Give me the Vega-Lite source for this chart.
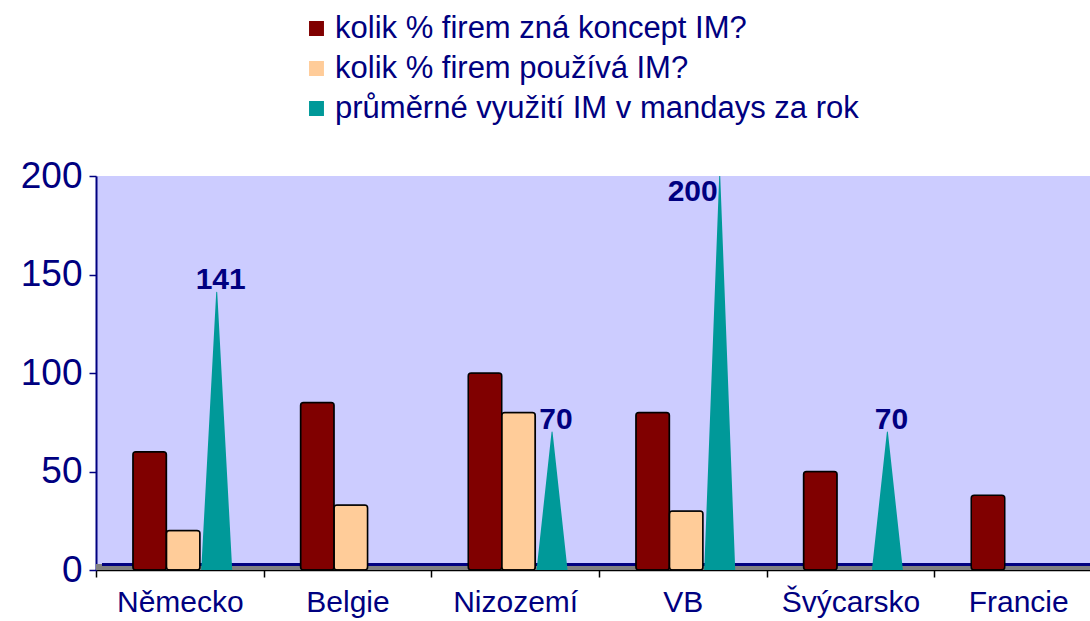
{
  "$schema": "https://vega.github.io/schema/vega-lite/v6.json",
  "autosize": {"type": "none"},
  "padding": {"left": 96, "top": 176, "right": 0, "bottom": 51},
  "width": 994,
  "height": 394,
  "background": "white",
  "config": {
    "font": "Liberation Sans",
    "view": {"fill": "#CCCCFF", "stroke": null}
  },
  "data": {
    "values": [
      {"country": "Německo", "series": "kolik % firem zná koncept IM?", "value": 60},
      {"country": "Německo", "series": "kolik % firem používá IM?", "value": 20},
      {"country": "Německo", "series": "průměrné využití IM v mandays za rok", "value": 141},
      {"country": "Belgie", "series": "kolik % firem zná koncept IM?", "value": 85},
      {"country": "Belgie", "series": "kolik % firem používá IM?", "value": 33},
      {"country": "Nizozemí", "series": "kolik % firem zná koncept IM?", "value": 100},
      {"country": "Nizozemí", "series": "kolik % firem používá IM?", "value": 80},
      {"country": "Nizozemí", "series": "průměrné využití IM v mandays za rok", "value": 70},
      {"country": "VB", "series": "kolik % firem zná koncept IM?", "value": 80},
      {"country": "VB", "series": "kolik % firem používá IM?", "value": 30},
      {"country": "VB", "series": "průměrné využití IM v mandays za rok", "value": 200},
      {"country": "Švýcarsko", "series": "kolik % firem zná koncept IM?", "value": 50},
      {"country": "Švýcarsko", "series": "průměrné využití IM v mandays za rok", "value": 70},
      {"country": "Francie", "series": "kolik % firem zná koncept IM?", "value": 38}
    ]
  },
  "encoding": {
    "x": {
      "field": "country", "type": "nominal",
      "sort": ["Německo", "Belgie", "Nizozemí", "VB", "Švýcarsko", "Francie"],
      "scale": {"range": [0, 1006], "paddingInner": 0, "paddingOuter": 0},
      "axis": {
        "title": null, "labelAngle": 0, "labelFontSize": 30, "labelColor": "#000080",
        "labelPadding": 10, "domainColor": "#000000", "domainWidth": 1.5,
        "tickColor": "#000000", "tickSize": 7, "tickWidth": 1.5, "tickBand": "extent"
      }
    },
    "xOffset": {
      "field": "series", "type": "nominal",
      "scale": {"domain": ["kolik % firem zná koncept IM?", "kolik % firem používá IM?", "průměrné využití IM v mandays za rok"], "paddingInner": 0, "paddingOuter": 1.1, "align": 0.55}
    }
  },
  "layer": [
    {
      "mark": {"type": "rule", "stroke": "#808080", "strokeWidth": 5},
      "encoding": {"y": {"datum": 1.5, "type": "quantitative", "scale": {"domain": [0, 200]}}, "x": {"value": 0}, "x2": {"value": 1006}, "xOffset": {"value": 0}}
    },
    {
      "mark": {"type": "rule", "stroke": "#000080", "strokeWidth": 1.5},
      "encoding": {"y": {"datum": 2.8, "type": "quantitative"}, "x": {"value": 6}, "x2": {"value": 1006}, "xOffset": {"value": 0}}
    },
    {
      "transform": [{"filter": "datum.series != 'průměrné využití IM v mandays za rok'"}],
      "mark": {"type": "bar", "stroke": "#000000", "strokeWidth": 1.5, "cornerRadius": 3},
      "encoding": {
        "y": {
          "field": "value", "type": "quantitative",
          "scale": {"domain": [0, 200]},
          "axis": {
            "title": null, "values": [0, 50, 100, 150, 200], "labelFontSize": 37, "labelColor": "#000080",
            "labelPadding": 7, "tickColor": "#000080", "tickSize": 7, "tickWidth": 1.5,
            "domainColor": "#000080", "domainWidth": 2, "gridColor": "#000080", "gridWidth": 1.5, "gridOpacity": 1
          }
        },
        "color": {
          "field": "series", "type": "nominal",
          "scale": {"domain": ["kolik % firem zná koncept IM?", "kolik % firem používá IM?", "průměrné využití IM v mandays za rok"], "range": ["#800000", "#FFCC99", "#009999"]},
          "legend": {
            "title": null, "orient": "none", "legendX": 205, "legendY": -163, "direction": "vertical",
            "symbolType": "square", "symbolSize": 180, "symbolStrokeColor": "#000000", "symbolStrokeWidth": 1.5,
            "labelFontSize": 31, "labelColor": "#000080", "labelLimit": 800, "rowPadding": 8, "labelOffset": 3,
            "encode": {"symbols": {"update": {"stroke": {"value": "#000000"}, "strokeWidth": {"value": 1.5}, "opacity": {"value": 1}}}}
          }
        }
      }
    },
    {
      "transform": [
        {"filter": "datum.series == 'průměrné využití IM v mandays za rok'"},
        {"fold": ["value"], "as": ["end", "v"]},
        {"impute": "v", "key": "end", "keyvals": ["base", "value"], "groupby": ["country", "series"], "value": 0}
      ],
      "mark": {"type": "trail", "clip": true},
      "encoding": {
        "y": {"field": "v", "type": "quantitative"},
        "detail": {"field": "country", "type": "nominal"},
        "order": {"field": "v", "type": "quantitative"},
        "size": {"field": "v", "type": "quantitative", "scale": {"domain": [0, 0.001], "range": [31, 0], "clamp": true, "zero": false}, "legend": null},
        "color": {"field": "series", "type": "nominal"}
      }
    },
    {
      "transform": [{"filter": "datum.series == 'průměrné využití IM v mandays za rok' && datum.value < 200"}],
      "mark": {"type": "text", "baseline": "bottom", "align": "center", "dx": 4, "dy": 3, "fontSize": 30, "fontWeight": "bold", "color": "#000080"},
      "encoding": {"y": {"field": "value", "type": "quantitative"}, "text": {"field": "value", "type": "quantitative"}}
    },
    {
      "transform": [{"filter": "datum.series == 'průměrné využití IM v mandays za rok' && datum.value >= 200"}],
      "mark": {"type": "text", "baseline": "top", "align": "right", "dx": -2, "dy": 1, "fontSize": 30, "fontWeight": "bold", "color": "#000080"},
      "encoding": {"y": {"field": "value", "type": "quantitative"}, "text": {"field": "value", "type": "quantitative"}}
    }
  ]
}
